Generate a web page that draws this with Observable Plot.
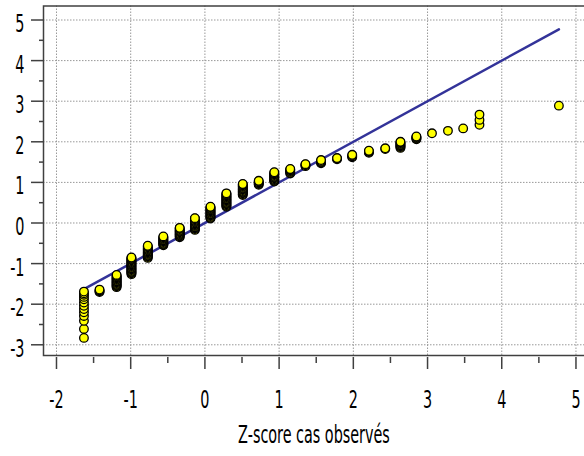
<!DOCTYPE html>
<html>
<head>
<meta charset="utf-8">
<script src="https://cdn.jsdelivr.net/npm/d3@7"></script>
<script src="https://cdn.jsdelivr.net/npm/@observablehq/plot@0.6"></script>
<style>
  html, body { margin: 0; padding: 0; background: #fff; }
  svg text { font-family: "Liberation Sans Narrow", "DejaVu Sans Condensed", sans-serif; }
</style>
</head>
<body>
<div id="chart"></div>
<script>
// Tick values
const xTicks = [-2, -1, 0, 1, 2, 3, 4, 5];
const xMinorTicks = [-1.5, -0.5, 0.5, 1.5, 2.5, 3.5, 4.5];
const yTicks = [-3, -2, -1, 0, 1, 2, 3, 4, 5];
const yMinorTicks = [-2.5, -1.5, -0.5, 0.5, 1.5, 2.5, 3.5, 4.5];
const xLabel = "Z-score cas observés";

// Observed z-scores (one per column of points)
const colX = [-1.63, -1.42, -1.19, -0.99, -0.77, -0.56, -0.34, -0.135, 0.075, 0.29,
              0.51, 0.725, 0.935, 1.15, 1.355, 1.565, 1.78, 1.985, 2.21, 2.43,
              2.635, 2.85, 3.06, 3.275, 3.48, 3.70, 4.77];
// Expected normal values for each column (bottom to top)
const colY = [
  [-2.83, -2.61, -2.41, -2.29, -2.20, -2.12, -2.04, -1.96, -1.88, -1.82, -1.77, -1.73, -1.69],
  [-1.70, -1.68, -1.66, -1.64],
  [-1.58, -1.56, -1.54, -1.52, -1.50, -1.48, -1.46, -1.44, -1.42, -1.40, -1.38, -1.36, -1.34, -1.32, -1.30, -1.28],
  [-1.26, -1.24, -1.22, -1.20, -1.18, -1.16, -1.14, -1.12, -1.10, -1.08, -1.06, -1.04, -1.02, -1.00, -0.98, -0.96, -0.94, -0.92, -0.90, -0.88, -0.86, -0.85],
  [-0.86, -0.84, -0.82, -0.80, -0.78, -0.76, -0.74, -0.72, -0.70, -0.68, -0.66, -0.64, -0.62, -0.60, -0.58, -0.56],
  [-0.55, -0.53, -0.51, -0.49, -0.47, -0.45, -0.43, -0.41, -0.39, -0.37, -0.35, -0.33],
  [-0.35, -0.33, -0.31, -0.29, -0.27, -0.25, -0.23, -0.21, -0.19, -0.17, -0.15, -0.13, -0.12],
  [-0.17, -0.15, -0.13, -0.11, -0.09, -0.07, -0.05, -0.03, -0.01, 0.01, 0.03, 0.05, 0.07, 0.09, 0.11, 0.12],
  [0.11, 0.13, 0.15, 0.17, 0.19, 0.21, 0.23, 0.25, 0.27, 0.29, 0.31, 0.33, 0.35, 0.37, 0.39, 0.40],
  [0.40, 0.42, 0.44, 0.46, 0.48, 0.50, 0.52, 0.54, 0.56, 0.58, 0.60, 0.62, 0.64, 0.66, 0.68, 0.70, 0.72, 0.73],
  [0.69, 0.71, 0.73, 0.75, 0.77, 0.79, 0.81, 0.83, 0.85, 0.87, 0.89, 0.91, 0.93, 0.95, 0.96],
  [0.94, 0.96, 0.98, 1.00, 1.02, 1.04],
  [1.02, 1.04, 1.06, 1.08, 1.10, 1.12, 1.14, 1.16, 1.18, 1.20, 1.22, 1.24, 1.25],
  [1.22, 1.24, 1.26, 1.28, 1.30, 1.32, 1.33],
  [1.40, 1.42, 1.44, 1.45],
  [1.47, 1.49, 1.51, 1.53, 1.55],
  [1.57, 1.59, 1.60],
  [1.62, 1.64, 1.66, 1.68],
  [1.73, 1.75, 1.77, 1.78],
  [1.82, 1.84],
  [1.85, 1.87, 1.89, 1.91, 1.93, 1.95, 1.97, 1.99, 2.00],
  [2.06, 2.08, 2.10, 2.12, 2.13],
  [2.21],
  [2.27],
  [2.33],
  [2.42, 2.54, 2.67],
  [2.89]
];
// Reference line (expected = observed)
const lineX = [-1.63, 4.77];
const lineY = [-1.63, 4.77];

const points = colX.flatMap((x, i) => colY[i].map(y => ({x, y})));
const lineData = lineX.map((x, i) => ({x, y: lineY[i]}));

const fmt = d => String(d);
const axisColor = "#404040";

const svg = Plot.plot({
  width: 584,
  height: 456,
  marginLeft: 43,
  marginRight: 0,
  marginTop: 5.5,
  marginBottom: 99,
  x: {domain: [-2.175, 5.115]},
  y: {domain: [-3.313, 5.345]},
  style: {fontFamily: "'Liberation Sans Narrow', 'DejaVu Sans Condensed', sans-serif", background: "#fff"},
  marks: [
    Plot.gridX(xTicks, {stroke: "#999", strokeOpacity: 1, strokeDasharray: "1.5 1.5", insetBottom: 2}),
    Plot.gridY(yTicks, {stroke: "#999", strokeOpacity: 1, strokeDasharray: "1.5 1.5"}),
    Plot.frame({stroke: axisColor, strokeWidth: 1.5, insetBottom: 2, insetRight: -4}),
    Plot.axisY(yTicks, {tickSize: 12, tickFormat: () => "", stroke: axisColor, strokeWidth: 1.5, label: null}),
    Plot.axisY(yMinorTicks, {tickSize: 4, tickFormat: () => "", stroke: axisColor, strokeWidth: 1.5, label: null}),
    Plot.text(yTicks, {y: d => d, text: fmt, frameAnchor: "left", dx: -19, dy: 4, textAnchor: "end", fontSize: 25, fill: "#000"}),
    Plot.axisX(xTicks, {tickSize: 12, tickPadding: 21, tickFormat: fmt, fontSize: 25, stroke: axisColor, strokeWidth: 1.5, fill: "#000", label: null}),
    Plot.axisX(xMinorTicks, {tickSize: 6, tickFormat: () => "", stroke: axisColor, strokeWidth: 1.5, label: null}),
    Plot.text([xLabel], {text: d => d, frameAnchor: "bottom", dy: 85, fontSize: 25, fill: "#000"}),
    Plot.line(lineData, {x: "x", y: "y", stroke: "#333399", strokeWidth: 2.5}),
    Plot.dot(points, {x: "x", y: "y", r: 4.3, fill: "#ffff00", stroke: "#000", strokeWidth: 1.3})
  ]
});

// Narrow the glyphs horizontally, keeping each label anchored in place
const k = 0.64;
svg.querySelectorAll("text").forEach(t => {
  const tr = t.getAttribute("transform") || "";
  t.setAttribute("transform", (tr + ` scale(${k},1)`).trim());
  const x = t.getAttribute("x");
  if (x) t.setAttribute("x", +x / k);
  t.querySelectorAll("tspan[x]").forEach(s => s.setAttribute("x", +s.getAttribute("x") / k));
});

document.getElementById("chart").appendChild(svg);
</script>
</body>
</html>
